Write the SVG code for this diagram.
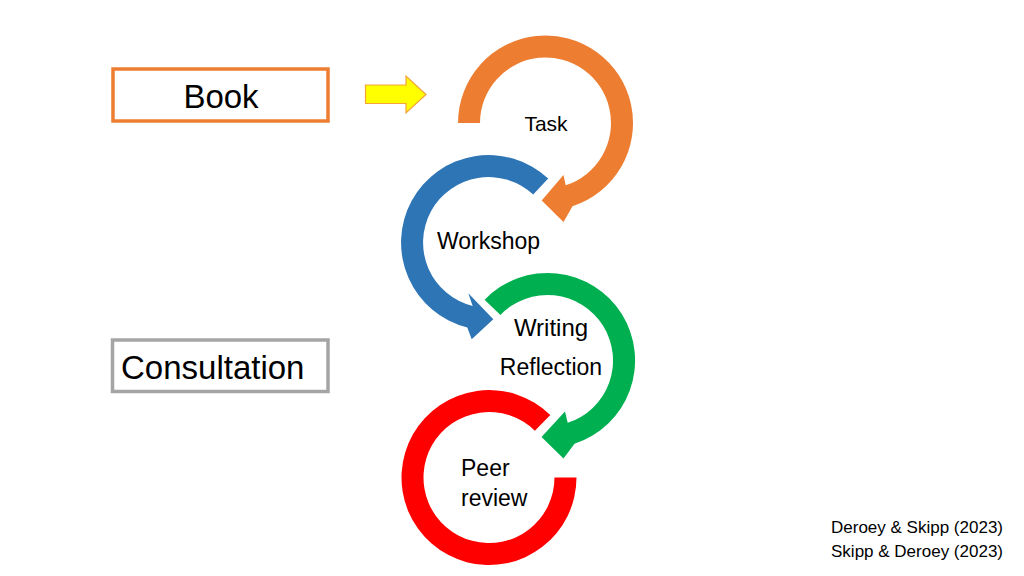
<svg xmlns="http://www.w3.org/2000/svg" width="1024" height="576" viewBox="0 0 1024 576">
  <style>
    text { font-family: "Liberation Sans", Arial, sans-serif; fill: #000000; }
    .box { fill: #FFFFFF; stroke-width: 3.5; }
    .lbl { font-size: 23px; }
    .cite { font-size: 17px; text-anchor: end; }
  </style>
  <rect width="1024" height="576" fill="#FFFFFF"/>

  <g id="book">
    <rect class="box" x="113" y="69" width="215" height="52" stroke="#ED7D31"/>
    <text x="221" y="108" font-size="33" text-anchor="middle">Book</text>
  </g>

  <g id="consultation">
    <rect class="box" x="112.5" y="340" width="215.5" height="51.5" stroke="#A5A5A5"/>
    <text x="121" y="379" font-size="33">Consultation</text>
  </g>

  <g id="connectors">
    <path id="yellow-arrow" d="M365.5,85 L406,85 L406,76 L426,94.5 L406,113 L406,103.5 L365.5,103.5 Z" fill="#FFFF00" stroke="#F2A33A" stroke-width="1.2"/>
  </g>

  <g id="task">
    <path d="M458,123 A87.5,87.5 0 1 1 572.5,206.2 L563.5,222 L541.7,200.5 L563.5,175 L565.7,185.3 A65.5,65.5 0 1 0 480,123 Z" fill="#ED7D31"/>
    <text class="lbl" x="546" y="131" font-size="21" text-anchor="middle" style="font-size:21px">Task</text>
  </g>

  <g id="workshop">
    <path d="M548.2,178.5 A87.5,87.5 0 1 0 467.3,327.4 L471.7,339.3 L493.3,319.3 L468.3,293.3 L472.7,306.1 A65.5,65.5 0 1 1 533.2,194.6 Z" fill="#2E75B6"/>
    <text class="lbl" x="437" y="249">Workshop</text>
  </g>

  <g id="writing-reflection">
    <path d="M484.6,299.7 A87.5,87.5 0 1 1 574.5,443.7 L563.5,458.5 L541.5,437 L565,411.5 L567.7,422.8 A65.5,65.5 0 1 0 500.4,315 Z" fill="#00B050"/>
    <text class="lbl" x="551" y="336" text-anchor="middle" style="font-size:24px">Writing</text>
    <text class="lbl" x="551" y="375" text-anchor="middle">Reflection</text>
  </g>

  <g id="peer-review">
    <path d="M550.3,415.1 A87.5,87.5 0 1 0 576.5,477.5 L554.5,477.5 A65.5,65.5 0 1 1 534.9,430.8 Z" fill="#FF0000"/>
    <text class="lbl" x="461" y="476">Peer</text>
    <text class="lbl" x="461" y="506">review</text>
  </g>

  <g id="citation">
    <text class="cite" x="1003" y="533">Deroey &amp; Skipp (2023)</text>
    <text class="cite" x="1003" y="557">Skipp &amp; Deroey (2023)</text>
  </g>
</svg>
